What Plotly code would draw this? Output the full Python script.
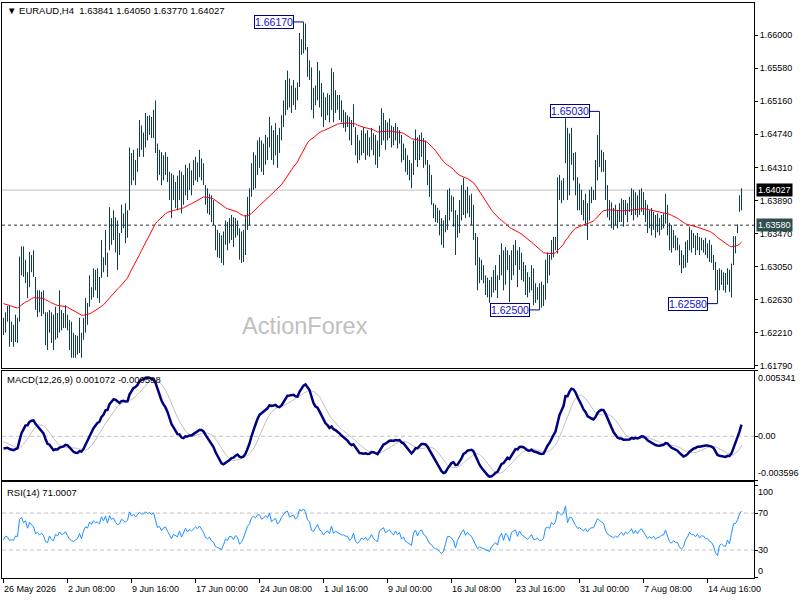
import plotly.graph_objects as go

# ---------------- data ----------------
symbol = "EURAUD,H4"

high = [
    1.6240, 1.6247, 1.6255, 1.6256, 1.6235, 1.6231, 1.6244, 1.6240, 1.6318, 1.6331,
    1.6331, 1.6314, 1.6298, 1.6324, 1.6320, 1.6326, 1.6292, 1.6275, 1.6275, 1.6273,
    1.6275, 1.6247, 1.6247, 1.6250, 1.6247, 1.6244, 1.6254, 1.6246, 1.6275, 1.6250,
    1.6246, 1.6256, 1.6244, 1.6237, 1.6235, 1.6221, 1.6218, 1.6217, 1.6240, 1.6221,
    1.6240, 1.6265, 1.6259, 1.6294, 1.6279, 1.6303, 1.6301, 1.6303, 1.6292, 1.6339,
    1.6317, 1.6352, 1.6323, 1.6381, 1.6367, 1.6377, 1.6368, 1.6364, 1.6348, 1.6384,
    1.6373, 1.6386, 1.6377, 1.6457, 1.6450, 1.6454, 1.6441, 1.6456, 1.6492, 1.6485,
    1.6476, 1.6501, 1.6497, 1.6498, 1.6496, 1.6505, 1.6517, 1.6462, 1.6454, 1.6451,
    1.6447, 1.6451, 1.6445, 1.6426, 1.6424, 1.6422, 1.6413, 1.6421, 1.6428, 1.6426,
    1.6422, 1.6435, 1.6431, 1.6437, 1.6428, 1.6441, 1.6445, 1.6438, 1.6454, 1.6443,
    1.6437, 1.6409, 1.6405, 1.6398, 1.6396, 1.6390, 1.6358, 1.6352, 1.6348, 1.6345,
    1.6350, 1.6364, 1.6362, 1.6367, 1.6371, 1.6368, 1.6367, 1.6364, 1.6354, 1.6350,
    1.6352, 1.6371, 1.6394, 1.6405, 1.6437, 1.6451, 1.6447, 1.6466, 1.6470, 1.6466,
    1.6462, 1.6473, 1.6470, 1.6496, 1.6485, 1.6479, 1.6488, 1.6473, 1.6482, 1.6498,
    1.6517, 1.6543, 1.6555, 1.6545, 1.6536, 1.6543, 1.6533, 1.6540, 1.6603, 1.6595,
    1.6617, 1.6615, 1.6585, 1.6568, 1.6559, 1.6533, 1.6536, 1.6566, 1.6555, 1.6539,
    1.6527, 1.6521, 1.6526, 1.6524, 1.6558, 1.6553, 1.6530, 1.6524, 1.6524, 1.6517,
    1.6505, 1.6502, 1.6498, 1.6496, 1.6492, 1.6512, 1.6483, 1.6473, 1.6466, 1.6479,
    1.6483, 1.6475, 1.6479, 1.6470, 1.6482, 1.6475, 1.6473, 1.6466, 1.6485, 1.6507,
    1.6501, 1.6492, 1.6489, 1.6494, 1.6485, 1.6483, 1.6488, 1.6483, 1.6479, 1.6473,
    1.6462, 1.6456, 1.6447, 1.6441, 1.6437, 1.6466, 1.6480, 1.6470, 1.6473, 1.6476,
    1.6469, 1.6466, 1.6441, 1.6435, 1.6422, 1.6386, 1.6384, 1.6380, 1.6377, 1.6367,
    1.6364, 1.6371, 1.6403, 1.6405, 1.6396, 1.6394, 1.6377, 1.6371, 1.6390, 1.6409,
    1.6418, 1.6403, 1.6407, 1.6396, 1.6398, 1.6384, 1.6348, 1.6343, 1.6317, 1.6314,
    1.6307, 1.6294, 1.6291, 1.6288, 1.6292, 1.6301, 1.6307, 1.6294, 1.6320, 1.6335,
    1.6326, 1.6330, 1.6326, 1.6320, 1.6326, 1.6333, 1.6339, 1.6326, 1.6330, 1.6323,
    1.6311, 1.6307, 1.6298, 1.6292, 1.6307, 1.6303, 1.6284, 1.6279, 1.6284, 1.6286,
    1.6282, 1.6314, 1.6323, 1.6320, 1.6339, 1.6343, 1.6343, 1.6419, 1.6422, 1.6415,
    1.6418, 1.6494, 1.6482, 1.6475, 1.6482, 1.6450, 1.6451, 1.6419, 1.6411, 1.6403,
    1.6390, 1.6398, 1.6386, 1.6403, 1.6407, 1.6403, 1.6441, 1.6473, 1.6503, 1.6454,
    1.6451, 1.6441, 1.6409, 1.6390, 1.6387, 1.6380, 1.6384, 1.6377, 1.6386, 1.6392,
    1.6390, 1.6390, 1.6386, 1.6394, 1.6405, 1.6403, 1.6400, 1.6396, 1.6403, 1.6405,
    1.6400, 1.6390, 1.6384, 1.6377, 1.6380, 1.6375, 1.6371, 1.6373, 1.6367, 1.6371,
    1.6373, 1.6398, 1.6384, 1.6361, 1.6358, 1.6352, 1.6345, 1.6342, 1.6333, 1.6326,
    1.6320, 1.6337, 1.6339, 1.6356, 1.6352, 1.6348, 1.6345, 1.6348, 1.6343, 1.6342,
    1.6339, 1.6342, 1.6335, 1.6339, 1.6333, 1.6320, 1.6311, 1.6301, 1.6303, 1.6301,
    1.6298, 1.6297, 1.6303, 1.6301, 1.6309, 1.6344, 1.6344, 1.6359, 1.6396, 1.64050,
]

low = [
    1.6218, 1.6221, 1.6235, 1.6203, 1.6209, 1.6203, 1.6209, 1.6208, 1.6235, 1.6294,
    1.6292, 1.6284, 1.6265, 1.6279, 1.6298, 1.6292, 1.6250, 1.6241, 1.6247, 1.6242,
    1.6245, 1.6205, 1.6199, 1.6221, 1.6208, 1.6199, 1.6212, 1.6214, 1.6221, 1.6224,
    1.6227, 1.6227, 1.6224, 1.6199, 1.6189, 1.6189, 1.6189, 1.6193, 1.6195, 1.6189,
    1.6212, 1.6221, 1.6231, 1.6254, 1.6263, 1.6266, 1.6275, 1.6265, 1.6259, 1.6291,
    1.6298, 1.6307, 1.6292, 1.6326, 1.6333, 1.6339, 1.6323, 1.6301, 1.6320, 1.6348,
    1.6354, 1.6335, 1.6342, 1.6377, 1.6409, 1.6415, 1.6409, 1.6426, 1.6445, 1.6454,
    1.6445, 1.6457, 1.6466, 1.6473, 1.6469, 1.6469, 1.6450, 1.6415, 1.6422, 1.6409,
    1.6415, 1.6422, 1.6413, 1.6390, 1.6367, 1.6390, 1.6380, 1.6377, 1.6390, 1.6373,
    1.6384, 1.6396, 1.6390, 1.6403, 1.6396, 1.6409, 1.6415, 1.6413, 1.6419, 1.6415,
    1.6409, 1.6384, 1.6373, 1.6371, 1.6362, 1.6358, 1.6326, 1.6317, 1.6316, 1.6310,
    1.6307, 1.6333, 1.6326, 1.6335, 1.6339, 1.6330, 1.6342, 1.6345, 1.6314, 1.6310,
    1.6311, 1.6320, 1.6352, 1.6358, 1.6394, 1.6403, 1.6405, 1.6422, 1.6431, 1.6426,
    1.6422, 1.6435, 1.6441, 1.6457, 1.6441, 1.6435, 1.6447, 1.6431, 1.6450, 1.6466,
    1.6483, 1.6498, 1.6505, 1.6508, 1.6501, 1.6511, 1.6505, 1.6517, 1.6534, 1.6575,
    1.6577, 1.6581, 1.6547, 1.6543, 1.6505, 1.6494, 1.6511, 1.6517, 1.6508, 1.6496,
    1.6483, 1.6492, 1.6498, 1.6489, 1.6505, 1.6489, 1.6501, 1.6505, 1.6492, 1.6489,
    1.6482, 1.6477, 1.6483, 1.6466, 1.6460, 1.6483, 1.6447, 1.6437, 1.6441, 1.6447,
    1.6450, 1.6441, 1.6447, 1.6445, 1.6454, 1.6447, 1.6435, 1.6431, 1.6445, 1.6460,
    1.6466, 1.6454, 1.6466, 1.6469, 1.6457, 1.6460, 1.6466, 1.6456, 1.6462, 1.6438,
    1.6441, 1.6426, 1.6422, 1.6415, 1.6405, 1.6422, 1.6441, 1.6432, 1.6441, 1.6445,
    1.6431, 1.6435, 1.6409, 1.6394, 1.6384, 1.6367, 1.6362, 1.6361, 1.6345, 1.6333,
    1.6329, 1.6349, 1.6352, 1.6364, 1.6375, 1.6356, 1.6320, 1.6342, 1.6348, 1.6364,
    1.6371, 1.6367, 1.6373, 1.6368, 1.6358, 1.6339, 1.6307, 1.6275, 1.6284, 1.6288,
    1.6284, 1.6269, 1.6266, 1.6259, 1.6266, 1.6272, 1.6275, 1.6265, 1.6288, 1.6294,
    1.6275, 1.6282, 1.6301, 1.6260, 1.6288, 1.6294, 1.6307, 1.6279, 1.6301, 1.6288,
    1.6286, 1.6269, 1.6266, 1.6272, 1.6275, 1.6256, 1.6259, 1.6263, 1.6250, 1.6253,
    1.6255, 1.6263, 1.6284, 1.6294, 1.6314, 1.6317, 1.6326, 1.6322, 1.6390, 1.6386,
    1.6390, 1.6437, 1.6390, 1.6396, 1.6435, 1.6415, 1.6396, 1.6377, 1.6377, 1.6371,
    1.6364, 1.6358, 1.6339, 1.6364, 1.6386, 1.6390, 1.6390, 1.6415, 1.6432, 1.6426,
    1.6426, 1.6390, 1.6368, 1.6364, 1.6354, 1.6352, 1.6358, 1.6354, 1.6362, 1.6362,
    1.6356, 1.6371, 1.6362, 1.6375, 1.6371, 1.6364, 1.6371, 1.6368, 1.6371, 1.6375,
    1.6371, 1.6362, 1.6348, 1.6354, 1.6345, 1.6352, 1.6342, 1.6349, 1.6345, 1.6352,
    1.6354, 1.6360, 1.6345, 1.6326, 1.6323, 1.6329, 1.6326, 1.6326, 1.6307, 1.6297,
    1.6303, 1.6304, 1.6310, 1.6326, 1.6323, 1.6329, 1.6320, 1.6326, 1.6320, 1.6326,
    1.6323, 1.6320, 1.6316, 1.6311, 1.6310, 1.6301, 1.6275, 1.6258, 1.6275, 1.6282,
    1.6275, 1.6272, 1.6282, 1.6273, 1.6266, 1.6307, 1.6322, 1.6348, 1.6375, 1.63770,
]

close = [
    1.6231, 1.6244, 1.6240, 1.6224, 1.6227, 1.6224, 1.6237, 1.6235, 1.6307, 1.6320,
    1.6301, 1.6311, 1.6282, 1.6316, 1.6304, 1.6298, 1.6263, 1.6269, 1.6256, 1.6265,
    1.6253, 1.6218, 1.6212, 1.6240, 1.6218, 1.6212, 1.6240, 1.6231, 1.6250, 1.6237,
    1.6240, 1.6250, 1.6231, 1.6212, 1.6205, 1.6199, 1.6205, 1.6209, 1.6227, 1.6205,
    1.6235, 1.6256, 1.6250, 1.6282, 1.6273, 1.6294, 1.6286, 1.6291, 1.6284, 1.6326,
    1.6311, 1.6342, 1.6314, 1.6371, 1.6354, 1.6364, 1.6345, 1.6333, 1.6339, 1.6371,
    1.6364, 1.6358, 1.6371, 1.6441, 1.6422, 1.6441, 1.6428, 1.6447, 1.6473, 1.6466,
    1.6466, 1.6485, 1.6479, 1.6485, 1.6479, 1.6492, 1.6466, 1.6435, 1.6441, 1.6422,
    1.6435, 1.6441, 1.6422, 1.6403, 1.6384, 1.6403, 1.6396, 1.6390, 1.6415, 1.6384,
    1.6403, 1.6428, 1.6409, 1.6422, 1.6415, 1.6428, 1.6435, 1.6428, 1.6441, 1.6428,
    1.6415, 1.6390, 1.6384, 1.6390, 1.6371, 1.6364, 1.6339, 1.6333, 1.6326, 1.6320,
    1.6333, 1.6352, 1.6345, 1.6358, 1.6358, 1.6345, 1.6358, 1.6352, 1.6320, 1.6326,
    1.6339, 1.6358, 1.6384, 1.6396, 1.6428, 1.6441, 1.6435, 1.6454, 1.6454, 1.6441,
    1.6447, 1.6460, 1.6454, 1.6482, 1.6454, 1.6466, 1.6473, 1.6454, 1.6466, 1.6492,
    1.6511, 1.6530, 1.6536, 1.6517, 1.6524, 1.6530, 1.6517, 1.6530, 1.6587, 1.6581,
    1.6600, 1.6590, 1.6562, 1.6555, 1.6517, 1.6511, 1.6530, 1.6549, 1.6524, 1.6517,
    1.6498, 1.6511, 1.6517, 1.6505, 1.6543, 1.6505, 1.6517, 1.6511, 1.6505, 1.6498,
    1.6498, 1.6492, 1.6492, 1.6473, 1.6479, 1.6498, 1.6460, 1.6447, 1.6454, 1.6466,
    1.6460, 1.6466, 1.6454, 1.6460, 1.6473, 1.6456, 1.6447, 1.6441, 1.6479, 1.6485,
    1.6492, 1.6473, 1.6479, 1.6485, 1.6473, 1.6466, 1.6479, 1.6466, 1.6473, 1.6447,
    1.6454, 1.6435, 1.6428, 1.6422, 1.6415, 1.6454, 1.6466, 1.6441, 1.6460, 1.6466,
    1.6447, 1.6441, 1.6422, 1.6403, 1.6396, 1.6377, 1.6371, 1.6367, 1.6352, 1.6339,
    1.6345, 1.6364, 1.6390, 1.6390, 1.6384, 1.6371, 1.6333, 1.6358, 1.6377, 1.6390,
    1.6403, 1.6377, 1.6390, 1.6377, 1.6371, 1.6352, 1.6320, 1.6294, 1.6301, 1.6294,
    1.6288, 1.6278, 1.6275, 1.6269, 1.6282, 1.6288, 1.6294, 1.6282, 1.6307, 1.6320,
    1.6288, 1.6314, 1.6307, 1.6275, 1.6314, 1.6320, 1.6326, 1.6294, 1.6320, 1.6301,
    1.6294, 1.6282, 1.6275, 1.6282, 1.6294, 1.6269, 1.6269, 1.6273, 1.6263, 1.6263,
    1.6269, 1.6307, 1.6311, 1.6307, 1.6333, 1.6326, 1.6339, 1.6409, 1.6403, 1.6396,
    1.6409, 1.6479, 1.6403, 1.6454, 1.6454, 1.6428, 1.6409, 1.6390, 1.6396, 1.6384,
    1.6377, 1.6390, 1.6371, 1.6390, 1.6396, 1.6396, 1.6428, 1.6454, 1.6447, 1.6441,
    1.6435, 1.6403, 1.6384, 1.6377, 1.6371, 1.6364, 1.6371, 1.6364, 1.6377, 1.6384,
    1.6371, 1.6384, 1.6377, 1.6384, 1.6396, 1.6377, 1.6390, 1.6377, 1.6390, 1.6396,
    1.6384, 1.6371, 1.6358, 1.6364, 1.6358, 1.6364, 1.6352, 1.6358, 1.6358, 1.6364,
    1.6364, 1.6377, 1.6358, 1.6339, 1.6333, 1.6339, 1.6333, 1.6333, 1.6314, 1.6307,
    1.6311, 1.6326, 1.6333, 1.6345, 1.6339, 1.6339, 1.6333, 1.6339, 1.6329, 1.6333,
    1.6333, 1.6326, 1.6326, 1.6320, 1.6317, 1.6307, 1.6282, 1.6269, 1.6288, 1.6291,
    1.6284, 1.6282, 1.6294, 1.6282, 1.6307, 1.6339, 1.6340, 1.6355, 1.63841, 1.64027,
]

# x-axis tick labels (every 32 H4 bars)
tick_bars = [0, 32, 64, 96, 128, 160, 192, 224, 256, 288, 320, 352]
tick_labels = ["26 May 2026", "2 Jun 08:00", "9 Jun 16:00", "17 Jun 00:00",
               "24 Jun 08:00", "1 Jul 16:00", "9 Jul 00:00", "16 Jul 08:00",
               "23 Jul 16:00", "31 Jul 00:00", "7 Aug 08:00", "14 Aug 16:00"]

price_ticks = [1.66000, 1.65580, 1.65160, 1.64740, 1.64310, 1.63890,
               1.63470, 1.63050, 1.62630, 1.62210, 1.61790]

marked_level = 1.63580          # dashed horizontal level
swing_highs = [150, 298]        # bars carrying the labelled highs
swing_lows = [268, 357]         # bars carrying the labelled lows

# indicator starting states read at the left edge of the picture
ma_period = 55
ma_start = 1.6259
macd_start = -0.00092
signal_start = -0.00038
rsi_start = 41.0

macd_max, macd_min = 0.005341, -0.003596
macd_text = "MACD(12,26,9) 0.001072 -0.000598"
rsi_text = "RSI(14) 71.0007"

# ---------------- derived series ----------------
n = len(close)
bars = list(range(n))
open_ = [close[0]] + close[:-1]


def ema(values, period, seed):
    k = 2.0 / (period + 1)
    out, prev = [], seed
    for v in values:
        prev = prev + k * (v - prev)
        out.append(prev)
    return out


ma = ema(close, ma_period, ma_start)
ema_fast = ema(close, 12, ma_start + macd_start)
ema_slow = ema(close, 26, ma_start)
macd = [f - s for f, s in zip(ema_fast, ema_slow)]
hist = [signal_start] * 8 + macd
signal = [sum(hist[i:i + 9]) / 9 for i in range(n)]

avg_loss = 0.0008
avg_gain = avg_loss * rsi_start / (100 - rsi_start)
rsi = [rsi_start]
for i in range(1, n):
    ch = close[i] - close[i - 1]
    avg_gain = (avg_gain * 13 + max(ch, 0)) / 14
    avg_loss = (avg_loss * 13 + max(-ch, 0)) / 14
    rsi.append(100 - 100 / (1 + avg_gain / avg_loss) if avg_loss > 0 else 100)

# ---------------- figure ----------------
FONT = "Liberation Sans"
BAR_COLOR = "#0E3B5A"

fig = go.Figure()
fig.add_trace(go.Ohlc(
    x=bars, open=open_, high=high, low=low, close=close,
    increasing=dict(line=dict(color=BAR_COLOR, width=1)),
    decreasing=dict(line=dict(color=BAR_COLOR, width=1)),
    tickwidth=0, xaxis="x", yaxis="y", showlegend=False, hoverinfo="skip"))
fig.add_trace(go.Scatter(x=bars, y=ma, mode="lines", line=dict(color="#FF0000", width=1),
                         xaxis="x", yaxis="y", showlegend=False, hoverinfo="skip"))
fig.add_trace(go.Scatter(x=bars, y=signal, mode="lines", line=dict(color="#C0C0C0", width=1),
                         xaxis="x2", yaxis="y2", showlegend=False, hoverinfo="skip"))
fig.add_trace(go.Scatter(x=bars, y=macd, mode="lines", line=dict(color="#000080", width=2.5),
                         xaxis="x2", yaxis="y2", showlegend=False, hoverinfo="skip"))
fig.add_trace(go.Scatter(x=bars, y=rsi, mode="lines", line=dict(color="#1E90FF", width=1),
                         xaxis="x3", yaxis="y3", showlegend=False, hoverinfo="skip"))

xr = [-0.75, 375.25]
axis_common = dict(showline=True, mirror=True, linecolor="black", linewidth=1,
                   showgrid=False, zeroline=False)
fig.update_layout(
    width=800, height=600,
    margin=dict(l=2, r=46, t=3, b=22),
    paper_bgcolor="white", plot_bgcolor="white",
    font=dict(family=FONT, size=9, color="black"),
    xaxis=dict(domain=[0, 1], range=xr, anchor="y", showticklabels=False, ticks="",
               rangeslider=dict(visible=False), **axis_common),
    yaxis=dict(domain=[0.3648, 1], range=[1.617568, 1.664112], side="right", anchor="x",
               tickvals=price_ticks, ticktext=[f"{v:.5f}" for v in price_ticks],
               ticks="outside", ticklen=3, tickcolor="black",
               tickfont=dict(family=FONT, size=9), **axis_common),
    xaxis2=dict(domain=[0, 1], range=xr, anchor="y2", showticklabels=False, ticks="",
                **axis_common),
    yaxis2=dict(domain=[0.1696, 0.3607], range=[macd_min, macd_max], side="right", anchor="x2",
                tickvals=[macd_min, 0, macd_max], showticklabels=False,
                ticks="outside", ticklen=3, tickcolor="black", **axis_common),
    xaxis3=dict(domain=[0, 1], range=xr, anchor="y3", tickvals=tick_bars,
                showticklabels=False, ticks="outside", ticklen=4, tickcolor="black",
                **axis_common),
    yaxis3=dict(domain=[0, 0.1661], range=[-0.3, 103.1], side="right", anchor="x3",
                tickvals=[0, 30, 70, 100], showticklabels=False,
                ticks="outside", ticklen=3, tickcolor="black", **axis_common),
)

shapes = [
    dict(type="line", xref="x domain", yref="y", x0=0, x1=1, y0=close[-1], y1=close[-1],
         line=dict(color="#C0C0C0", width=1), layer="below"),
    dict(type="line", xref="x domain", yref="y", x0=0, x1=1, y0=marked_level, y1=marked_level,
         line=dict(color="#303030", width=1, dash="3px,3px"), layer="below"),
    dict(type="line", xref="x2 domain", yref="y2", x0=0, x1=1, y0=0, y1=0,
         line=dict(color="#C0C0C0", width=1, dash="4px,3px"), layer="below"),
    dict(type="line", xref="x3 domain", yref="y3", x0=0, x1=1, y0=70, y1=70,
         line=dict(color="#C0C0C0", width=1, dash="4px,3px"), layer="below"),
    dict(type="line", xref="x3 domain", yref="y3", x0=0, x1=1, y0=30, y1=30,
         line=dict(color="#C0C0C0", width=1, dash="4px,3px"), layer="below"),
]

annotations = []
label_offset = 4.75  # bars between the price box and its bar
swing_points = [(b, high[b]) for b in swing_highs] + [(b, low[b]) for b in swing_lows]
for b, v in swing_points:
    shapes.append(dict(type="line", xref="x", yref="y", x0=b - label_offset, x1=b,
                       y0=v, y1=v, line=dict(color="#000080", width=1)))
    annotations.append(dict(x=b - label_offset, y=v, xref="x", yref="y", text=f"{v:.5f}",
                            xanchor="right", yanchor="middle", showarrow=False,
                            bgcolor="white", bordercolor="#000080", borderwidth=1, borderpad=0,
                            font=dict(family=FONT, size=10.5, color="#1010C8")))

# right-side current price and level boxes
annotations.append(dict(x=1, xref="paper", xshift=2, y=close[-1], yref="y",
                        text=f"{close[-1]:.5f}", xanchor="left", yanchor="middle",
                        showarrow=False, bgcolor="black", borderpad=1,
                        font=dict(family=FONT, size=9, color="white")))
annotations.append(dict(x=1, xref="paper", xshift=2, y=marked_level, yref="y",
                        text=f"{marked_level:.5f}", xanchor="left", yanchor="middle",
                        showarrow=False, bgcolor="#2F4F4F", borderpad=1,
                        font=dict(family=FONT, size=9, color="white")))

# MACD / RSI scale labels
for val, txt, anc in [(macd_max, f"{macd_max:.6f}", "top"), (0, "0.00", "middle"),
                      (macd_min, f"{macd_min:.6f}", "bottom")]:
    annotations.append(dict(x=1, xref="paper", xshift=2, y=val, yref="y2", text=txt,
                            xanchor="left", yanchor=anc, showarrow=False,
                            font=dict(family=FONT, size=9, color="black")))
for val, anc in [(100, "top"), (70, "middle"), (30, "middle"), (0, "bottom")]:
    annotations.append(dict(x=1, xref="paper", xshift=2, y=val, yref="y3", text=str(val),
                            xanchor="left", yanchor=anc, showarrow=False,
                            font=dict(family=FONT, size=9, color="black")))

# x tick labels (left aligned at tick, MetaTrader style)
for b, t in zip(tick_bars, tick_labels):
    annotations.append(dict(x=b, xref="x3", y=0, yref="paper", yshift=-4, text=t,
                            xanchor="left", yanchor="top", showarrow=False, xshift=-2,
                            font=dict(family=FONT, size=9, color="black")))

# panel titles
title = f"▼ {symbol}  {open_[-1]:.5f} {high[-1]:.5f} {low[-1]:.5f} {close[-1]:.5f}"
annotations.append(dict(x=0.004, xref="paper", y=0.9787, yref="y domain", text=title,
                        xanchor="left", yanchor="middle", showarrow=False,
                        font=dict(family=FONT, size=9.5, color="black")))
annotations.append(dict(x=0.004, xref="paper", y=0.92, yref="y2 domain", text=macd_text,
                        xanchor="left", yanchor="middle", showarrow=False,
                        font=dict(family=FONT, size=9.5, color="black")))
annotations.append(dict(x=0.004, xref="paper", y=0.90, yref="y3 domain", text=rsi_text,
                        xanchor="left", yanchor="middle", showarrow=False,
                        font=dict(family=FONT, size=9.5, color="black")))

# watermark
annotations.append(dict(x=0.4025, xref="paper", y=0.117, yref="y domain", text="ActionForex",
                        xanchor="center", yanchor="middle", showarrow=False,
                        font=dict(family=FONT, size=23.5, color="#C0C0C0")))

fig.update_layout(shapes=shapes, annotations=annotations)
fig.write_html("out.html", config={"displayModeBar": False, "staticPlot": True},
               post_script="document.body.style.margin='0';document.body.style.overflow='hidden';")
